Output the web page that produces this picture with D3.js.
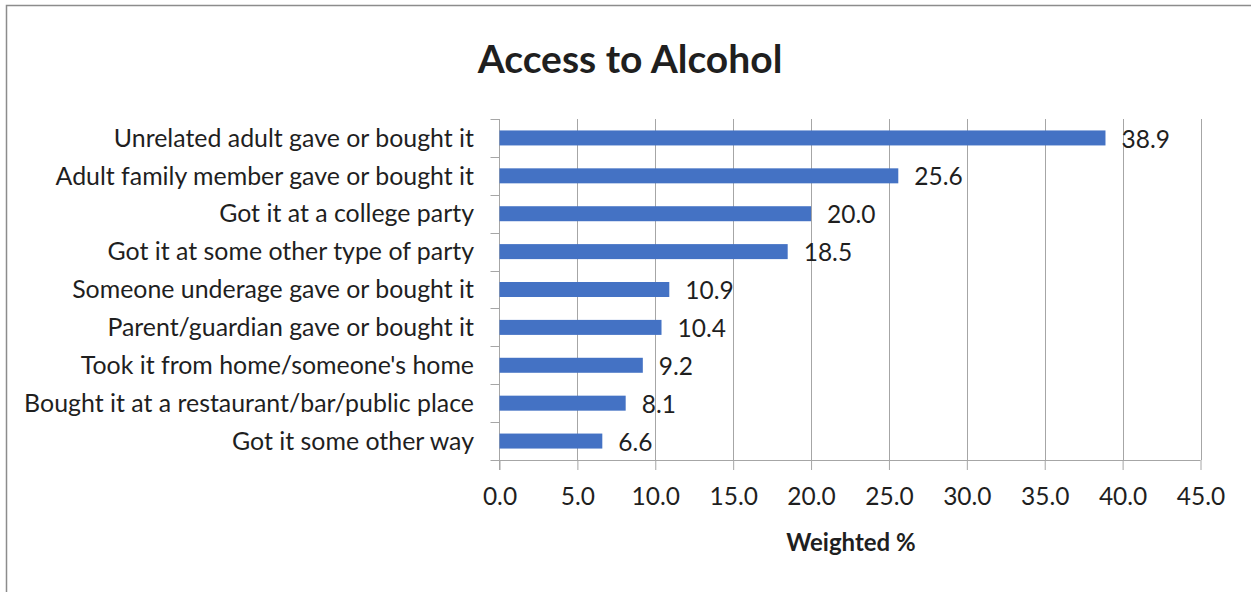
<!DOCTYPE html>
<html>
<head>
<meta charset="utf-8">
<script src="https://cdn.jsdelivr.net/npm/d3@7"></script>
<style>
  html, body { margin: 0; padding: 0; background: #fff; }
  svg { display: block; }
  text { font-family: Lato, "Open Sans", sans-serif; fill: #1f1f1f; }
</style>
</head>
<body>
<svg id="chart" width="1251" height="592"></svg>
<script>
const categories = [
  "Unrelated adult gave or bought it",
  "Adult family member gave or bought it",
  "Got it at a college party",
  "Got it at some other type of party",
  "Someone underage gave or bought it",
  "Parent/guardian gave or bought it",
  "Took it from home/someone's home",
  "Bought it at a restaurant/bar/public place",
  "Got it some other way"
];
const values = [38.9, 25.6, 20.0, 18.5, 10.9, 10.4, 9.2, 8.1, 6.6];
const xTicks = [0, 5, 10, 15, 20, 25, 30, 35, 40, 45];
const titleText = "Access to Alcohol";
const xAxisTitle = "Weighted %";

const svg = d3.select("#chart");
const W = 1251, H = 592;
const m = { left: 499.5, right: 1200.5, top: 119, bottom: 460 };
const fs = 24.5;

// outer border
svg.append("rect")
  .attr("x", 6.5).attr("y", 5.5)
  .attr("width", W + 10).attr("height", H + 10)
  .attr("fill", "none").attr("stroke", "#8c8c8c").attr("stroke-width", 1.5);

const x = d3.scaleLinear().domain([0, 45]).range([m.left, m.right]);
const yBand = d3.scaleBand().domain(categories).range([m.top, m.bottom]).padding(0);

// gridlines
svg.append("g").selectAll("line").data(xTicks.filter(d => d > 0)).join("line")
  .attr("x1", d => Math.round(x(d)) + 0.5).attr("x2", d => Math.round(x(d)) + 0.5)
  .attr("y1", m.top).attr("y2", m.bottom)
  .attr("stroke", "#a6a6a6").attr("stroke-width", 1);

// x axis
const xAxis = d3.axisBottom(x).tickValues(xTicks).tickFormat(d3.format(".1f")).tickSize(10).tickPadding(18);
const gx = svg.append("g").attr("transform", `translate(0,${m.bottom})`).call(xAxis);
gx.select(".domain").attr("stroke", "#a6a6a6").attr("d", `M${m.left},0.5H${m.right}`);
gx.selectAll(".tick line").attr("stroke", "#a6a6a6");
gx.selectAll(".tick text").attr("font-size", fs).attr("font-family", "Lato, sans-serif").attr("fill", "#1f1f1f");

// y axis (ticks at band edges)
const gy = svg.append("g");
gy.append("line").attr("x1", m.left).attr("x2", m.left).attr("y1", m.top).attr("y2", m.bottom + 10)
  .attr("stroke", "#a6a6a6");
const edges = categories.map(c => yBand(c)).concat([m.bottom]);
gy.selectAll("line.t").data(edges).join("line").attr("class", "t")
  .attr("x1", m.left - 9).attr("x2", m.left)
  .attr("y1", d => Math.round(d) + 0.5).attr("y2", d => Math.round(d) + 0.5)
  .attr("stroke", "#a6a6a6");

// category labels
svg.append("g").selectAll("text").data(categories).join("text")
  .attr("x", 474).attr("y", d => yBand(d) + yBand.bandwidth() / 2)
  .attr("dy", "0.35em").attr("text-anchor", "end")
  .attr("font-size", 24.9)
  .text(d => d);

// bars
const data = categories.map((c, i) => ({ c, v: values[i] }));
svg.append("g").selectAll("rect").data(data).join("rect")
  .attr("x", x(0)).attr("y", d => yBand(d.c) + yBand.bandwidth() / 2 - 7.5)
  .attr("width", d => x(d.v) - x(0)).attr("height", 15)
  .attr("fill", "#4472C4");

// value labels
svg.append("g").selectAll("text").data(data).join("text")
  .attr("x", d => x(d.v) + 16).attr("y", d => yBand(d.c) + yBand.bandwidth() / 2 + 1)
  .attr("dy", "0.35em").attr("font-size", fs)
  .text(d => d3.format(".1f")(d.v));

// title
svg.append("text").attr("x", 630).attr("y", 73).attr("text-anchor", "middle")
  .attr("font-size", 39).attr("font-weight", "bold").text(titleText);

// axis title
svg.append("text").attr("x", 851).attr("y", 551).attr("text-anchor", "middle")
  .attr("font-size", 24).attr("font-weight", "bold").text(xAxisTitle);
</script>
</body>
</html>
